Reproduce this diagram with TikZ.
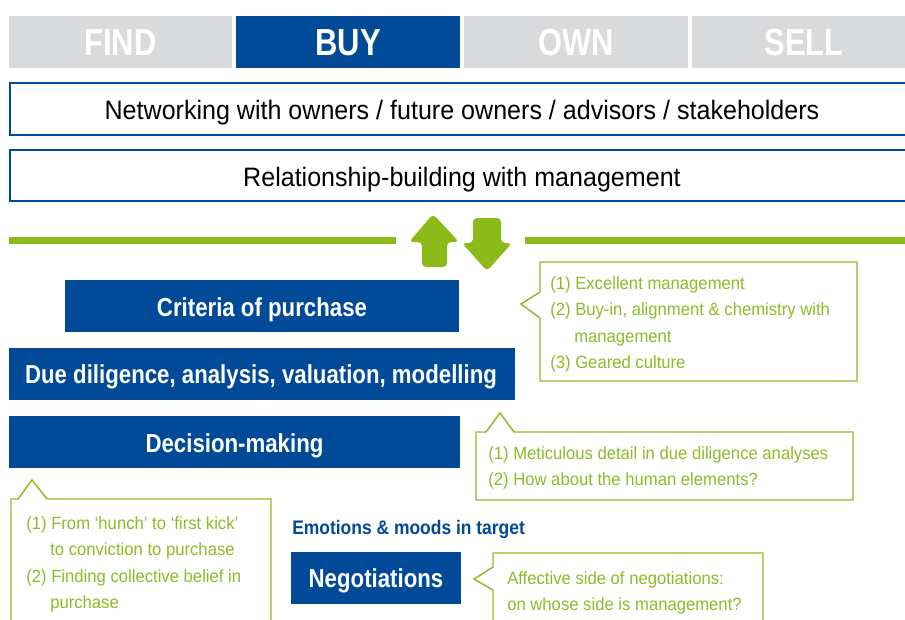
\documentclass[tikz,border=0pt]{standalone}
\usepackage{fontspec}
\setmainfont{Liberation Sans}[FakeStretch=0.94]
\newfontfamily\tabfam{Liberation Sans}[FakeStretch=0.82]
\newfontfamily\boldfam{Liberation Sans}[FakeStretch=0.855]
\newfontfamily\emofam{Liberation Sans}[FakeStretch=0.89]
\definecolor{dblue}{RGB}{0,74,152}
\definecolor{tgray}{RGB}{217,218,219}
\definecolor{lgreen}{RGB}{141,188,40}
\definecolor{agreen}{RGB}{140,186,25}
\begin{document}
\begin{tikzpicture}[x=0.75pt,y=-0.75pt,
  tabtxt/.style={text=white,font=\tabfam\fontsize{28.3}{30}\selectfont\bfseries,inner sep=0pt,anchor=base},
  bandtxt/.style={text=black,font=\fontsize{20}{24}\selectfont,inner sep=0pt,anchor=base},
  bluetxt/.style={text=white,font=\boldfam\fontsize{19.5}{22}\selectfont\bfseries,inner sep=0pt,anchor=base},
  calltxt/.style={text=lgreen,font=\fontsize{13.3}{16}\selectfont,inner sep=0pt,anchor=base west},
  callout/.style={draw=lgreen,line width=1.1pt,fill=white,line join=miter},
  bandbox/.style={draw=dblue,line width=1.6pt,fill=white},
  garrow/.style={fill=agreen,rounded corners=3pt}]
\useasboundingbox (0,0) rectangle (905,619);
% tabs
\fill[tgray] (9,16) rectangle (232,68);
\fill[dblue] (236,16) rectangle (460,68);
\fill[tgray] (464,16) rectangle (688,68);
\fill[tgray] (692,16) rectangle (910,68);
\node[tabtxt] (find) at (120.5,55) {FIND};
\node[tabtxt] (buy) at (348,55) {BUY};
\node[tabtxt] (own) at (576,55) {OWN};
\node[tabtxt] (sell) at (804,55) {SELL};
% bands
\draw[bandbox] (10,83) rectangle (915,135);
\node[bandtxt] (net) at (462,119) {Networking with owners / future owners / advisors / stakeholders};
\draw[bandbox] (10,150) rectangle (915,201);
\node[bandtxt] (rel) at (462,186) {Relationship-building with management};
% green line
\fill[agreen] (9,237) rectangle (396,244);
\fill[agreen] (525,237) rectangle (910,244);
% arrows
\fill[garrow] (433,214) -- (459,242) -- (447,242) -- (447,267) -- (422,267) -- (422,242) -- (409,242) -- cycle;
\fill[garrow] (487,271) -- (512,243) -- (501,243) -- (501,218) -- (473,218) -- (473,243) -- (462,243) -- cycle;
% blue boxes
\fill[dblue] (65,280) rectangle (459,332);
\node[bluetxt] (crit) at (262,316) {Criteria of purchase};
\fill[dblue] (9,348) rectangle (515,400);
\node[bluetxt] (dd) at (261,383) {Due diligence, analysis, valuation, modelling};
\fill[dblue] (9,416) rectangle (460,468);
\node[bluetxt] (dec) at (234.5,452) {Decision-making};
\fill[dblue] (291,552) rectangle (461,604);
\node[bluetxt] (neg) at (376,587) {Negotiations};
\node[text=dblue,font=\emofam\fontsize{14.7}{16}\selectfont\bfseries,inner sep=0pt,anchor=base west] (emo) at (292,534) {Emotions \& moods in target};
% callout 1
\draw[callout] (540,262) -- (857,262) -- (857,381) -- (540,381) -- (540,318) -- (521,304) -- (540,292) -- cycle;
\node[calltxt] (c1a) at (550,289) {(1) Excellent management};
\node[calltxt] (c1b) at (550,315.5) {(2) Buy-in, alignment \& chemistry with};
\node[calltxt] (c1c) at (574,342) {management};
\node[calltxt] (c1d) at (550,368.5) {(3) Geared culture};
% callout 2
\draw[callout] (476,432) -- (486,432) -- (500,413) -- (514,432) -- (853,432) -- (853,500) -- (476,500) -- cycle;
\node[calltxt] (c2a) at (488,459) {(1) Meticulous detail in due diligence analyses};
\node[calltxt] (c2b) at (488,485.5) {(2) How about the human elements?};
% callout 3
\draw[callout] (11,499) -- (18,499) -- (32,480) -- (47,499) -- (271,499) -- (271,630) -- (11,630) -- cycle;
\node[calltxt] (c3a) at (26,529) {(1) From ‘hunch’ to ‘first kick’};
\node[calltxt] (c3b) at (50,555.5) {to conviction to purchase};
\node[calltxt] (c3c) at (26,582) {(2) Finding collective belief in};
\node[calltxt] (c3d) at (50,608.5) {purchase};
% callout 4
\draw[callout] (493,553) -- (763,553) -- (763,630) -- (493,630) -- (493,590) -- (474,579) -- (493,567) -- cycle;
\node[calltxt] (c4a) at (507,584) {Affective side of negotiations:};
\node[calltxt] (c4b) at (507,610.5) {on whose side is management?};
\end{tikzpicture}
\end{document}
